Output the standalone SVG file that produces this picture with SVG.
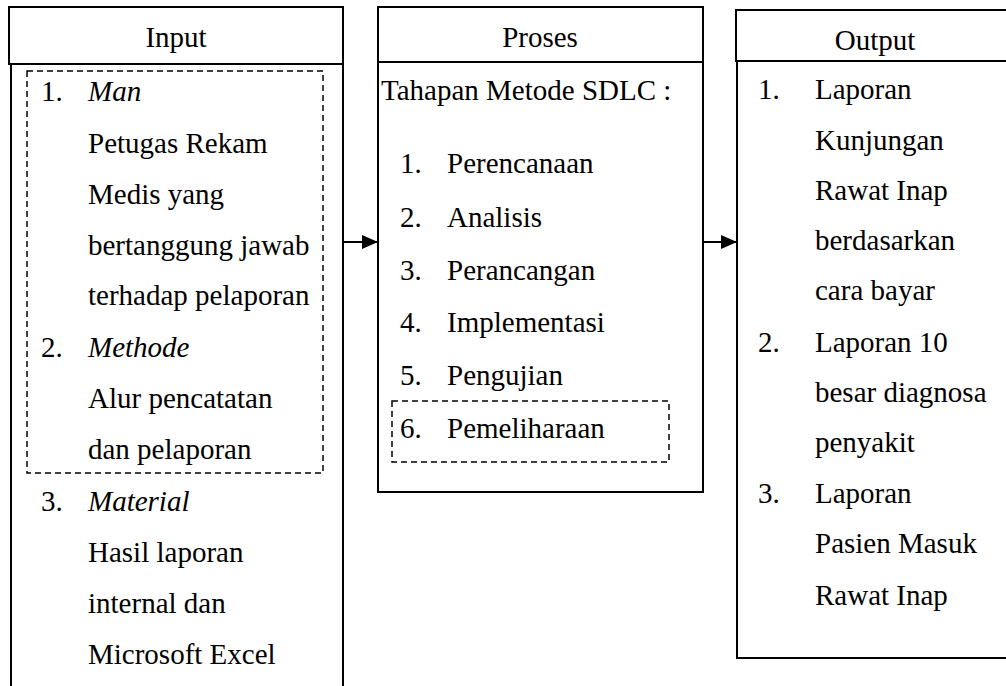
<svg xmlns="http://www.w3.org/2000/svg" width="1006" height="686" viewBox="0 0 1006 686">
<defs>
<style>
text{font-family:"Liberation Serif","Times New Roman",serif;font-size:29px;fill:#000}
.it{font-style:italic}
.mid{text-anchor:middle}
.box{fill:#fff;stroke:#000;stroke-width:2}
.dash{fill:none;stroke:#000;stroke-width:1.5;stroke-dasharray:6 4}
.conn{stroke:#000;stroke-width:2;fill:none}
</style>
<marker id="ah" viewBox="0 0 16 14" refX="16" refY="7" markerWidth="16" markerHeight="14" markerUnits="userSpaceOnUse" orient="auto">
<path d="M0,0 L16,7 L0,14 Z" fill="#000"/>
</marker>
</defs>
<rect width="1006" height="686" fill="#fff"/>
<g id="input">
<rect class="box" x="11" y="64" width="332" height="630"/>
<rect class="box" x="9" y="7" width="334" height="57"/>
<text class="mid" x="176" y="47">Input</text>
<rect class="dash" x="27" y="71" width="296" height="402"/>
<text x="41" y="101">1.</text><text class="it" x="88" y="101">Man</text>
<text x="88" y="153">Petugas Rekam</text>
<text x="88" y="204">Medis yang</text>
<text x="88" y="255">bertanggung jawab</text>
<text x="88" y="305">terhadap pelaporan</text>
<text x="41" y="357">2.</text><text class="it" x="88" y="357">Methode</text>
<text x="88" y="408">Alur pencatatan</text>
<text x="88" y="459">dan pelaporan</text>
<text x="41" y="511">3.</text><text class="it" x="88" y="511">Material</text>
<text x="88" y="562">Hasil laporan</text>
<text x="88" y="613">internal dan</text>
<text x="88" y="664">Microsoft Excel</text>
</g>
<g id="proses">
<rect class="box" x="378" y="7" width="325" height="485"/>
<line class="conn" x1="378" y1="62" x2="703" y2="62"/>
<text class="mid" x="540" y="47">Proses</text>
<text x="381" y="100">Tahapan Metode SDLC :</text>
<text x="400" y="173">1.</text><text x="447" y="173">Perencanaan</text>
<text x="400" y="227">2.</text><text x="447" y="227">Analisis</text>
<text x="400" y="280">3.</text><text x="447" y="280">Perancangan</text>
<text x="400" y="332">4.</text><text x="447" y="332">Implementasi</text>
<text x="400" y="385">5.</text><text x="447" y="385">Pengujian</text>
<rect class="dash" x="392" y="401" width="277" height="61"/>
<text x="400" y="438">6.</text><text x="447" y="438">Pemeliharaan</text>
</g>
<g id="output">
<rect class="box" x="737" y="61" width="280" height="597"/>
<rect class="box" x="736" y="10" width="281" height="51"/>
<text class="mid" x="875" y="50">Output</text>
<text x="758" y="99">1.</text><text x="815" y="99">Laporan</text>
<text x="815" y="150">Kunjungan</text>
<text x="815" y="200">Rawat Inap</text>
<text x="815" y="250">berdasarkan</text>
<text x="815" y="300">cara bayar</text>
<text x="758" y="352">2.</text><text x="815" y="352">Laporan 10</text>
<text x="815" y="402">besar diagnosa</text>
<text x="815" y="452">penyakit</text>
<text x="758" y="503">3.</text><text x="815" y="503">Laporan</text>
<text x="815" y="553">Pasien Masuk</text>
<text x="815" y="605">Rawat Inap</text>
</g>
<g id="connectors">
<line class="conn" x1="343" y1="242" x2="378" y2="242" marker-end="url(#ah)"/>
<line class="conn" x1="703" y1="242" x2="737" y2="242" marker-end="url(#ah)"/>
</g>
</svg>
